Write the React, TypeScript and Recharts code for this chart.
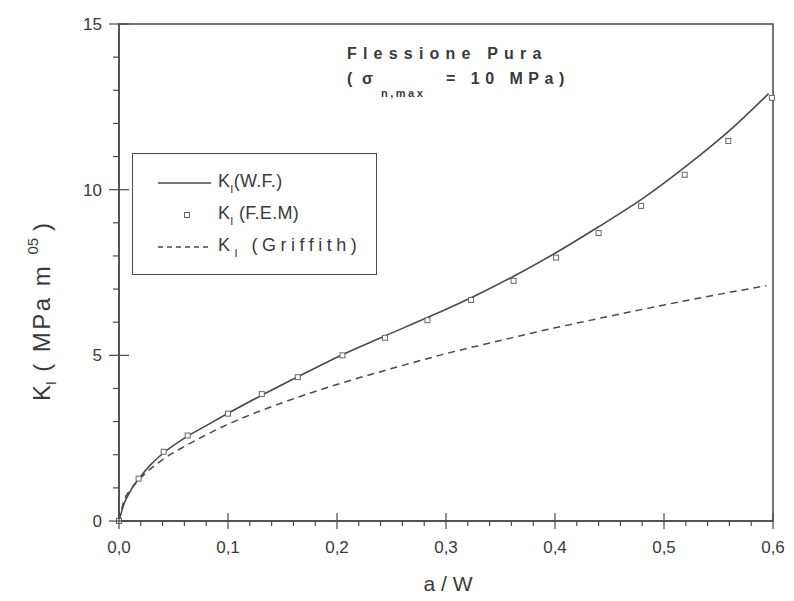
import {
  ComposedChart,
  Legend,
  Line,
  ReferenceArea,
  Scatter,
  XAxis,
  YAxis,
} from 'recharts'

const FONT = '"Liberation Sans", Arial, sans-serif'
const INK = '#4a4a4a'
const TEXT = '#3a3a3a'

// tick positions (major every 0.1 / 5, minor in between)
const xTicks = [
  0, 0.02, 0.04, 0.06, 0.08, 0.1, 0.12, 0.14, 0.16, 0.18, 0.2, 0.22, 0.24, 0.26, 0.28, 0.3,
  0.32, 0.34, 0.36, 0.38, 0.4, 0.42, 0.44, 0.46, 0.48, 0.5, 0.52, 0.54, 0.56, 0.58, 0.6,
]
const yTicks = [0, 1, 2, 3, 4, 5, 6, 7, 8, 9, 10, 11, 12, 13, 14, 15]

// K_I (W.F.) - solid
const wfX = [0, 0.005, 0.01, 0.02, 0.03, 0.04, 0.06, 0.08, 0.1, 0.13, 0.165, 0.205, 0.245, 0.285, 0.325, 0.36, 0.4, 0.44, 0.48, 0.52, 0.56, 0.596]
const wfK = [0, 0.55, 0.88, 1.35, 1.73, 2.03, 2.5, 2.88, 3.25, 3.78, 4.37, 5.02, 5.6, 6.17, 6.77, 7.35, 8.08, 8.88, 9.72, 10.7, 11.78, 12.9]

// K_I (F.E.M) - squares
const femX = [0, 0.018, 0.041, 0.063, 0.1, 0.131, 0.164, 0.205, 0.244, 0.283, 0.323, 0.362, 0.401, 0.44, 0.479, 0.519, 0.559, 0.599]
const femK = [0, 1.28, 2.09, 2.58, 3.24, 3.83, 4.34, 5.0, 5.53, 6.06, 6.67, 7.25, 7.95, 8.69, 9.51, 10.45, 11.47, 12.77]

// K_I (Griffith) - dashed
const grX = [0, 0.005, 0.01, 0.02, 0.04, 0.06, 0.08, 0.1, 0.15, 0.2, 0.25, 0.3, 0.35, 0.4, 0.45, 0.5, 0.55, 0.594]
const grK = [0, 0.65, 0.92, 1.3, 1.85, 2.25, 2.6, 2.92, 3.57, 4.12, 4.6, 5.05, 5.45, 5.83, 6.18, 6.52, 6.84, 7.1]

const wfData = wfX.map((x, i) => ({ x, wf: wfK[i] }))
const femData = femX.map((x, i) => ({ x, fem: femK[i] }))
const grData = grX.map((x, i) => ({ x, gr: grK[i] }))

const fmt = (v: number) => v.toFixed(1).replace('.', ',')
const isMajorX = (v: number) => Math.abs(v * 10 - Math.round(v * 10)) < 1e-6

const XTick = (props: any) => {
  const { x, y, payload } = props
  const major = isMajorX(payload.value)
  return (
    <g>
      <line
        stroke={INK}
        strokeWidth={1.2}
        x1={x}
        x2={x}
        y1={major ? y - 8 : y}
        y2={major ? y + 8 : y + 5}
      />
      {major && (
        <text fill={TEXT} fontFamily={FONT} fontSize={17} textAnchor="middle" x={x} y={y + 32}>
          {fmt(payload.value)}
        </text>
      )}
    </g>
  )
}

const YTick = (props: any) => {
  const { x, y, payload } = props
  const major = payload.value % 5 === 0
  return (
    <g>
      <line
        stroke={INK}
        strokeWidth={1.2}
        x1={major ? x - 10 : x - 6}
        x2={major ? x + 10 : x}
        y1={y}
        y2={y}
      />
      {major && (
        <text fill={TEXT} fontFamily={FONT} fontSize={17} textAnchor="end" x={x - 17} y={y + 6}>
          {payload.value}
        </text>
      )}
    </g>
  )
}

const Square = (props: any) => {
  const { cx, cy } = props
  return <rect fill="#fff" height={5} stroke="#666" strokeWidth={1} width={5} x={cx - 2.5} y={cy - 2.5} />
}

const legendRows = [
  { key: 'wf', label: '(W.F.)', spacing: 0.3 },
  { key: 'fem', label: ' (F.E.M)', spacing: 0.3 },
  { key: 'gr', label: ' (Griffith)', spacing: 4.5 },
]

const LegendBox = () => (
  <div
    style={{
      background: '#fff',
      border: `1.5px solid ${INK}`,
      boxSizing: 'border-box',
      color: TEXT,
      fontFamily: FONT,
      fontSize: 18,
      height: 122,
      position: 'relative',
      width: 245,
    }}
  >
    {legendRows.map((row, i) => (
      <div key={row.key} style={{ left: 0, position: 'absolute', top: 17 + i * 32, width: '100%' }}>
        <svg height={24} style={{ left: 22, position: 'absolute', top: 0 }} width={60}>
          {row.key === 'wf' && <line stroke={INK} strokeWidth={1.4} x1={3} x2={56} y1={12} y2={12} />}
          {row.key === 'fem' && <Square cx={32} cy={12} />}
          {row.key === 'gr' && (
            <line stroke={INK} strokeDasharray="5 4" strokeWidth={1.4} x1={3} x2={57} y1={12} y2={12} />
          )}
        </svg>
        <span style={{ left: 85, letterSpacing: row.spacing, position: 'absolute', top: 0, whiteSpace: 'pre' }}>
          K<span style={{ fontSize: 11, position: 'relative', top: 6 }}>I</span>
          {row.label}
        </span>
      </div>
    ))}
  </div>
)

export default function App() {
  return (
    <div style={{ background: '#fff', height: 601, left: 0, position: 'absolute', top: 0, width: 794 }}>
      <ComposedChart height={601} margin={{ bottom: 0, left: 0, right: 21, top: 24 }} width={794}>
        <ReferenceArea
          fill="none"
          ifOverflow="visible"
          stroke={INK}
          strokeWidth={1.5}
          x1={0}
          x2={0.6}
          y1={0}
          y2={15}
        />
        <XAxis
          axisLine={{ stroke: INK, strokeWidth: 1.5 }}
          dataKey="x"
          domain={[0, 0.6]}
          height={80}
          interval={0}
          tick={<XTick />}
          tickLine={false}
          tickMargin={0}
          tickSize={0}
          ticks={xTicks}
          type="number"
        />
        <YAxis
          axisLine={{ stroke: INK, strokeWidth: 1.5 }}
          domain={[0, 15]}
          interval={0}
          tick={<YTick />}
          tickLine={false}
          tickMargin={0}
          tickSize={0}
          ticks={yTicks}
          type="number"
          width={119}
        />
        <Line
          data={grData}
          dataKey="gr"
          dot={false}
          isAnimationActive={false}
          name="Griffith"
          stroke={INK}
          strokeDasharray="7 5"
          strokeWidth={1.5}
          type="monotone"
        />
        <Line
          data={wfData}
          dataKey="wf"
          dot={false}
          isAnimationActive={false}
          name="W.F."
          stroke={INK}
          strokeWidth={1.6}
          type="monotone"
        />
        <Scatter
          data={femData}
          dataKey="fem"
          isAnimationActive={false}
          name="F.E.M"
          shape={<Square />}
        />
        <Legend
          align="center"
          content={<LegendBox />}
          layout="vertical"
          verticalAlign="middle"
          wrapperStyle={{ height: 122, left: 132, top: 153, width: 245 }}
        />
      </ComposedChart>
      <svg
        height={601}
        style={{ left: 0, pointerEvents: 'none', position: 'absolute', top: 0 }}
        width={794}
      >
        <g fill={TEXT} fontFamily={FONT}>
          <text fontSize={16} fontWeight="bold" letterSpacing={6.2} x={347} y={59}>
            Flessione Pura
          </text>
          <text fontSize={16} fontWeight="bold" x={347} y={84}>
            (
          </text>
          <text fontSize={16} fontWeight="bold" x={362} y={84}>
            σ
          </text>
          <text fontSize={11} fontWeight="bold" letterSpacing={2.5} x={381} y={97}>
            n,max
          </text>
          <text fontSize={16} fontWeight="bold" letterSpacing={5.5} x={446} y={84}>
            = 10 MPa)
          </text>
          <text fontSize={21} textAnchor="middle" x={448} y={591}>
            a / W
          </text>
          <text fontSize={24} textAnchor="middle" transform="rotate(-90 50 312)" x={50} y={312}>
            K
            <tspan dy={6} fontSize={14}>
              I
            </tspan>
            <tspan dy={-6} letterSpacing={2.5}>
              {' ( MPa m '}
            </tspan>
            <tspan dy={-12} fontSize={15}>
              05
            </tspan>
            <tspan dy={12}> )</tspan>
          </text>
        </g>
      </svg>
    </div>
  )
}
